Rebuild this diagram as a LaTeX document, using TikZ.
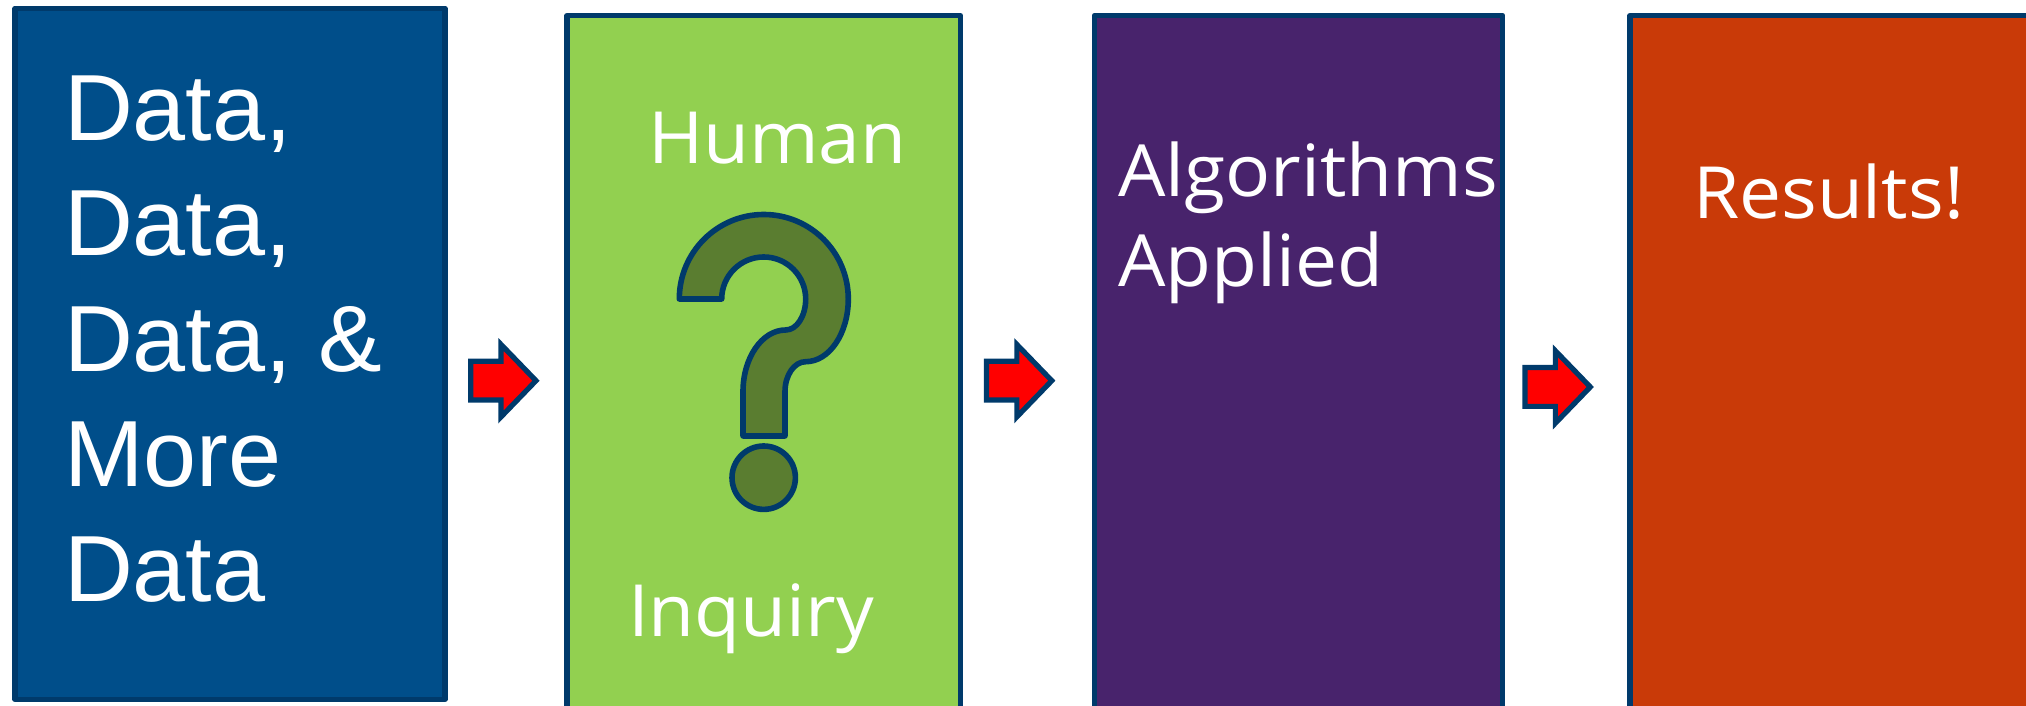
\documentclass[tikz,border=0pt]{standalone}
\usepackage{fontspec}
\setmainfont[FakeStretch=1.015]{Liberation Sans}
\newfontfamily\opensans[FakeStretch=1.04]{Open Sans}
\usetikzlibrary{shapes.arrows}
\definecolor{rim}{HTML}{003A6B}
\definecolor{bluebox}{HTML}{004E8A}
\definecolor{greenbox}{HTML}{92D050}
\definecolor{purplebox}{HTML}{48236C}
\definecolor{orangebox}{HTML}{C93A08}
\definecolor{quest}{HTML}{5A7D30}
\tikzset{
  panel/.style={draw=rim, line width=2.6pt, line join=round, anchor=north west, inner sep=0pt, outer sep=0pt},
  bigtext/.style={text=white, inner sep=0pt, outer sep=0pt, align=left, font=\opensans\fontsize{36}{44.6}\selectfont},
  datatext/.style={text=white, inner sep=0pt, outer sep=0pt, align=left, font=\fontsize{47}{57.6}\selectfont},
  blockarrow/.style={single arrow, draw=rim, fill=red, line width=2.6pt, line join=miter, inner xsep=0pt, inner ysep=8.4pt, outer sep=0pt,
    minimum width=33.6pt, minimum height=32.65pt, single arrow head extend=8.4pt, single arrow tip angle=92,
    single arrow head indent=0pt, anchor=tail},
}
\begin{document}
\begin{tikzpicture}[x=.5pt, y=.5pt]
  \clip (0,0) rectangle (2026,706);
  % Kaesten
  \node [panel, fill=bluebox, minimum width=215pt, minimum height=345.5pt] (data) at (15,697.7) {};
  \node [panel, fill=greenbox, minimum width=196.7pt, minimum height=360pt] (inquiry) at (567,690.5) {};
  \node [panel, fill=purplebox, minimum width=204pt, minimum height=360pt] (algo) at (1094.5,690.5) {};
  \node [panel, fill=orangebox, minimum width=300pt, minimum height=360pt] (results) at (1630,690.5) {};
  % Pfeile
  \node [blockarrow] (arrowa) at (470.7,325.3) {};
  \node [blockarrow] (arrowb) at (986.5,325.3) {};
  \node [blockarrow] (arrowc) at (1525,319) {};
  % Fragezeichen
  \draw [draw=rim, fill=quest, line width=2.8pt, line join=round]
    (679.3,407) -- (721.7,407)
    arc [start angle=180, end angle=0, radius=42]
    arc [start angle=0, end angle=-90, x radius=20, y radius=31]
    arc [start angle=90, end angle=180, x radius=42.7, y radius=61.7]
    -- (743,270) -- (785,270) -- (785,314.3)
    arc [start angle=180, end angle=90, x radius=20.7, y radius=30]
    arc [start angle=-90, end angle=0, x radius=42.6, y radius=62.7]
    arc [start angle=0, end angle=180, radius=84.5]
    -- cycle;
  \draw [draw=rim, fill=quest, line width=2.8pt] (763.7,228.3) circle [radius=31.7];
  % Texte
  \node [datatext, anchor=north west] (datalines) at (64,630) {Data,\\Data,\\Data, \&\\More\\Data};
  \node [bigtext, anchor=base west] (human) at (648,542.5) {Human};
  \node [bigtext, anchor=base west] (inq) at (628,69) {Inquiry};
  \node [bigtext, anchor=base west] (algotext) at (1118,509) {Algorithms};
  \node [bigtext, anchor=base west] (applied) at (1118,419.5) {Applied};
  \node [bigtext, anchor=base west] (restext) at (1693,487.5) {Results!};
\end{tikzpicture}
\end{document}
